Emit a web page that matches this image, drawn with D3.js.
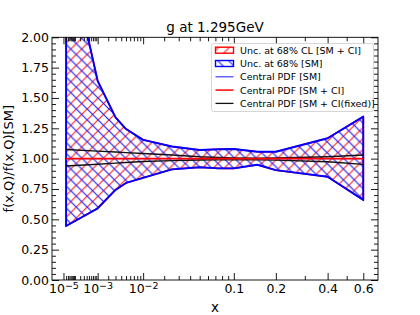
<!DOCTYPE html>
<html>
<head>
<meta charset="utf-8">
<script src="https://cdn.jsdelivr.net/npm/d3@7"></script>
<style>
  body { margin: 0; background: #fff; }
  svg { font-family: "DejaVu Sans", sans-serif; }
</style>
</head>
<body>
<svg id="chart" width="420" height="315"></svg>
<script>
// x grid of the uncertainty bands
const xs = [2e-5, 1e-3, 3e-3, 5e-3, 0.01, 0.025, 0.05, 0.075, 0.1, 0.15, 0.2, 0.4, 0.6];
// SM band (ratio to SM central)
const smUp = [2.80, 1.64, 1.34, 1.244, 1.155, 1.10, 1.071, 1.077, 1.08, 1.057, 1.057, 1.168, 1.346];
const smDn = [0.445, 0.59, 0.742, 0.80, 0.842, 0.912, 0.929, 0.920, 0.920, 0.950, 0.905, 0.851, 0.660];
// SM + CI band
const ciUp = [2.80, 1.64, 1.34, 1.244, 1.155, 1.10, 1.071, 1.077, 1.08, 1.057, 1.057, 1.168, 1.346];
const ciDn = [0.445, 0.59, 0.742, 0.80, 0.842, 0.912, 0.929, 0.920, 0.920, 0.950, 0.905, 0.851, 0.660];
// central curves
const centralSM = [1, 1, 1, 1, 1, 1, 1, 1, 1, 1, 1, 1, 1];
const centralCI = [1, 1, 1, 1, 1, 1, 1, 1, 1, 1, 1, 1, 1];
const fixedUp = [1.075, 1.062, 1.055, 1.050, 1.043, 1.030, 1.016, 1.010, 1.006, 1.003, 1.005, 1.016, 1.030];
const fixedDn = [0.940, 0.954, 0.963, 0.968, 0.976, 0.984, 0.989, 0.990, 0.990, 0.990, 0.988, 0.975, 0.953];

const xMajor = [1e-5, 1e-3, 1e-2, 0.1, 0.2, 0.4, 0.6];
const xLabels = ["10^-5", "10^-3", "10^-2", "0.1", "0.2", "0.4", "0.6"];
const yMajor = [0, 0.25, 0.5, 0.75, 1.0, 1.25, 1.5, 1.75, 2.0];

const legendItems = [
  { label: "Unc. at 68% CL [SM + CI]", kind: "patch", color: "#ff0000", hatch: "url(#hatchNE)" },
  { label: "Unc. at 68% [SM]", kind: "patch", color: "#0000ff", hatch: "url(#hatchNW)" },
  { label: "Central PDF [SM]", kind: "line", color: "#3f3fff", width: 1.2 },
  { label: "Central PDF [SM + CI]", kind: "line", color: "#ff0000", width: 1.5 },
  { label: "Central PDF [SM + CI(fixed)]", kind: "line", color: "#111", width: 1.3 }
];

const width = 420, height = 315;
const margin = { left: 52, right: 42, top: 37.3, bottom: 35 };

const svg = d3.select('#chart');

const x = d3.scalePow().exponent(0.3)
            .domain([0, 0.7])
            .range([margin.left, width - margin.right]);
const y = d3.scaleLinear()
            .domain([0, 2])
            .range([height - margin.bottom, margin.top]);

// hatch patterns
const defs = svg.append('defs');
const s = 10.9;
const ne = defs.append('pattern').attr('id', 'hatchNE')
  .attr('patternUnits', 'userSpaceOnUse').attr('width', s).attr('height', s);
ne.append('path')
  .attr('d', `M0,${s} L${s},0 M${-s / 2},${s / 2} L${s / 2},${-s / 2} M${s / 2},${s * 1.5} L${s * 1.5},${s / 2}`)
  .attr('stroke', '#ff2020').attr('stroke-width', 1.2);
const nw = defs.append('pattern').attr('id', 'hatchNW')
  .attr('patternUnits', 'userSpaceOnUse').attr('width', s).attr('height', s);
nw.append('path')
  .attr('d', `M0,0 L${s},${s} M${-s / 2},${s / 2} L${s / 2},${s * 1.5} M${s / 2},${-s / 2} L${s * 1.5},${s / 2}`)
  .attr('stroke', '#2020ff').attr('stroke-width', 1.2);

defs.append('clipPath').attr('id', 'plotClip')
  .append('rect')
  .attr('x', margin.left).attr('y', margin.top)
  .attr('width', width - margin.left - margin.right)
  .attr('height', height - margin.top - margin.bottom);

const plot = svg.append('g').attr('clip-path', 'url(#plotClip)');

const area = (up, dn) => d3.area()
  .x((d, i) => x(xs[i]))
  .y0((d, i) => y(dn[i]))
  .y1((d, i) => y(up[i]))(xs) + 'Z';

const line = (vals) => d3.line()
  .x((d, i) => x(xs[i]))
  .y((d, i) => y(vals[i]))(xs);

// SM + CI band (red, "/")
plot.append('path')
  .attr('d', area(ciUp, ciDn))
  .attr('fill', 'url(#hatchNE)')
  .attr('stroke', '#ff0000')
  .attr('stroke-width', 1.6);

// SM band (blue, "\")
plot.append('path')
  .attr('d', area(smUp, smDn))
  .attr('fill', 'url(#hatchNW)')
  .attr('stroke', '#0000ff')
  .attr('stroke-width', 1.9)
  .attr('stroke-linejoin', 'round');

plot.append('path').attr('d', line(centralSM))
  .attr('fill', 'none').attr('stroke', '#3f3fff').attr('stroke-width', 1.2);
plot.append('path').attr('d', line(fixedUp))
  .attr('fill', 'none').attr('stroke', '#111').attr('stroke-width', 1.4);
plot.append('path').attr('d', line(fixedDn))
  .attr('fill', 'none').attr('stroke', '#111').attr('stroke-width', 1.4);
plot.append('path').attr('d', line(centralCI))
  .attr('fill', 'none').attr('stroke', '#ff0000').attr('stroke-width', 1.6);

// minor tick positions
const xMinor = [];
[1e-5, 1e-4, 1e-3, 1e-2].forEach(dec => {
  for (let k = 2; k <= 9; k++) xMinor.push(k * dec);
});
xMinor.push(1e-4, 0.3, 0.5);
const yMinor = d3.range(0, 2.0001, 0.05).filter(v => Math.abs(v * 4 - Math.round(v * 4)) > 1e-6);

const bottomY = height - margin.bottom;
const rightX = width - margin.right;

function styleAxis(g) {
  g.select('.domain').remove();
  g.selectAll('line').attr('stroke', '#000').attr('stroke-width', 0.9);
  g.selectAll('text').attr('fill', '#000');
}

// x axes
svg.append('g')
   .attr('transform', 'translate(0,' + bottomY + ')')
   .call(d3.axisBottom(x).tickValues(xMinor).tickFormat('').tickSize(-4))
   .call(styleAxis);
svg.append('g')
   .attr('transform', 'translate(0,' + margin.top + ')')
   .call(d3.axisTop(x).tickValues(xMinor).tickFormat('').tickSize(-4))
   .call(styleAxis);
svg.append('g')
   .attr('transform', 'translate(0,' + margin.top + ')')
   .call(d3.axisTop(x).tickValues(xMajor).tickFormat('').tickSize(-7))
   .call(styleAxis);
const xAxisG = svg.append('g')
   .attr('id', 'x-axis')
   .attr('transform', 'translate(0,' + bottomY + ')')
   .call(d3.axisBottom(x).tickValues(xMajor).tickSize(-7).tickPadding(4.5)
           .tickFormat((d, i) => xLabels[i]))
   .call(styleAxis);
xAxisG.selectAll('text')
   .attr('font-size', 12.5)
   .attr('font-family', '"DejaVu Sans", sans-serif')
   .each(function (d, i) {
     const t = d3.select(this);
     const lab = xLabels[i];
     if (lab.indexOf('^') >= 0) {
       const parts = lab.split('^');
       t.text(null);
       t.append('tspan').text(parts[0]);
       t.append('tspan').text(parts[1].replace('-', '\u2212'))
        .attr('font-size', 9.5).attr('dy', '-0.45em');
     }
   });

// y axes
svg.append('g')
   .attr('transform', 'translate(' + margin.left + ',0)')
   .call(d3.axisLeft(y).tickValues(yMinor).tickFormat('').tickSize(-4))
   .call(styleAxis);
svg.append('g')
   .attr('transform', 'translate(' + rightX + ',0)')
   .call(d3.axisRight(y).tickValues(yMinor).tickFormat('').tickSize(-4))
   .call(styleAxis);
svg.append('g')
   .attr('transform', 'translate(' + rightX + ',0)')
   .call(d3.axisRight(y).tickValues(yMajor).tickFormat('').tickSize(-7))
   .call(styleAxis);
svg.append('g')
   .attr('id', 'y-axis')
   .attr('transform', 'translate(' + margin.left + ',0)')
   .call(d3.axisLeft(y).tickValues(yMajor).tickSize(-7).tickPadding(3)
           .tickFormat(d3.format('.2f')))
   .call(styleAxis)
   .selectAll('text')
   .attr('font-size', 12.5)
   .attr('font-family', '"DejaVu Sans", sans-serif');

// frame
svg.append('rect')
   .attr('x', margin.left).attr('y', margin.top)
   .attr('width', rightX - margin.left)
   .attr('height', bottomY - margin.top)
   .attr('fill', 'none').attr('stroke', '#000').attr('stroke-width', 0.9);

// title and labels
svg.append('text')
   .attr('x', (margin.left + rightX) / 2).attr('y', 31.5)
   .attr('text-anchor', 'middle').attr('font-size', 13.5)
   .text('g at 1.295GeV');
svg.append('text')
   .attr('x', (margin.left + rightX) / 2).attr('y', 311.5)
   .attr('text-anchor', 'middle').attr('font-size', 13.5)
   .text('x');
svg.append('text')
   .attr('transform', 'translate(12.5,' + ((margin.top + bottomY) / 2) + ') rotate(-90)')
   .attr('text-anchor', 'middle').attr('font-size', 13)
   .text('f(x,Q)/f(x,Q)[SM]');

// legend
const lg = svg.append('g').attr('transform', 'translate(211.5,43.5)');
lg.append('rect')
  .attr('width', 162).attr('height', 68).attr('rx', 2)
  .attr('fill', '#fff').attr('fill-opacity', 0.85)
  .attr('stroke', '#ccc').attr('stroke-width', 0.8);
legendItems.forEach((it, i) => {
  const cy = 6.7 + i * 13.3;
  if (it.kind === 'patch') {
    lg.append('rect')
      .attr('x', 4).attr('y', cy - 3).attr('width', 18).attr('height', 6)
      .attr('fill', it.hatch).attr('stroke', it.color).attr('stroke-width', 1.4);
  } else {
    lg.append('line')
      .attr('x1', 4).attr('x2', 22).attr('y1', cy).attr('y2', cy)
      .attr('stroke', it.color).attr('stroke-width', it.width);
  }
  lg.append('text')
    .attr('x', 28.5).attr('y', cy).attr('dy', '0.36em')
    .attr('font-size', 9.5)
    .text(it.label);
});
</script>
</body>
</html>
